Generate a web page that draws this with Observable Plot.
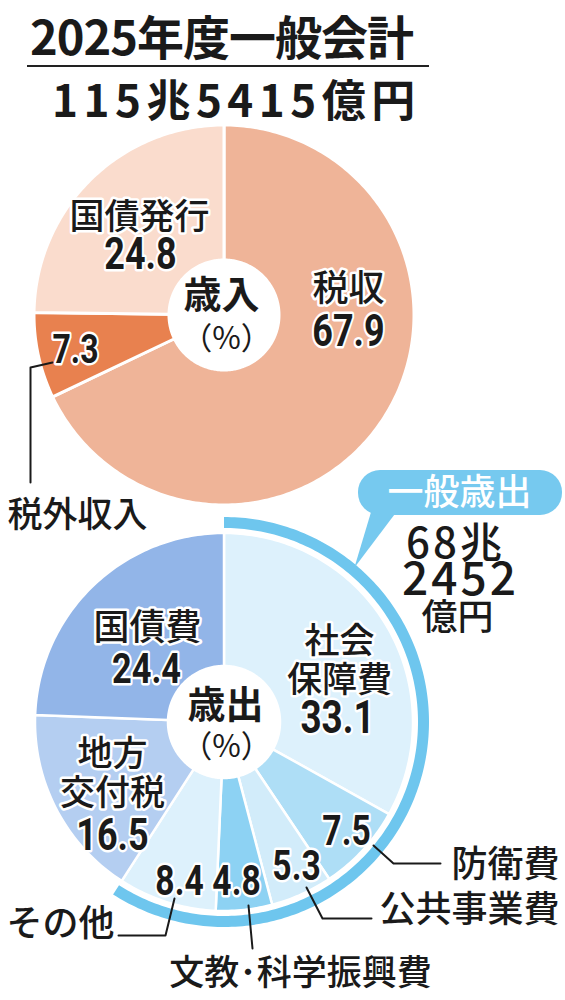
<!DOCTYPE html>
<html>
<head>
<meta charset="utf-8">
<script src="https://cdn.jsdelivr.net/npm/d3@7"></script>
<script src="https://cdn.jsdelivr.net/npm/@observablehq/plot@0.6"></script>
<style>
  body { margin: 0; background: #fff; }
  #head { position: relative; width: 565px; height: 122px; font-family: "Noto Sans CJK JP", sans-serif; color: #1a1a1a; }
  #head .t1 { position: absolute; left: 30px; top: 0px; font-size: 47px; line-height: normal; font-weight: 700; white-space: nowrap; letter-spacing: -1px; }
  #head .rule { position: absolute; left: 27px; top: 65px; width: 402px; height: 2px; background: #222; }
  #head .t2 { position: absolute; left: 52px; top: 71px; font-size: 44px; line-height: 54px; font-weight: 700; white-space: nowrap; letter-spacing: 5.5px; }
  #chart svg { display: block; }
</style>
</head>
<body>
<div id="head"><div class="t1" id="t1"></div><div class="rule"></div><div class="t2" id="t2"></div></div>
<div id="chart"></div>
<script>
// ---------- data ----------
const titleText = "2025年度一般会計";
const totalText = "115兆5415億円";
const revenueNames = ["税収", "税外収入", "国債発行"];
const revenueValues = [67.9, 7.3, 24.8];
const spendingNames = ["社会保障費", "防衛費", "公共事業費", "文教・科学振興費", "その他", "地方交付税", "国債費"];
const spendingValues = [33.1, 7.5, 5.3, 4.8, 8.4, 16.5, 24.4];
const generalSpendingItems = ["社会保障費", "防衛費", "公共事業費", "文教・科学振興費", "その他"];
const generalLabel = "一般歳出";
const generalTotalLines = ["68兆", "2452", "億円"];
const centerLabels = ["歳入", "歳出"];
const unitLabel = "（%）";
const nameText = {"国債発行": "国債発行", "税収": "税収", "税外収入": "税外収入",
  "国債費": "国債費", "社会保障費": "社会\n保障費", "地方交付税": "地方\n交付税",
  "防衛費": "防衛費", "公共事業費": "公共事業費", "文教・科学振興費": "文教･科学振興費", "その他": "その他"};

// ---------- layout & style ----------
const TOP = 122, W = 565, H = 1000 - TOP;
const geo = {
  rev: {cx: 224, cy: 315, r0: 55, r1: 190},
  exp: {cx: 224, cy: 722, r0: 56, r1: 189, ring0: 194, ring1: 205}
};
const revColors = ["#EFB498", "#E8814F", "#FADCCD"];
const expColors = ["#DDF1FC", "#AEDEF6", "#D2ECFA", "#8DD2F3", "#DDF1FC", "#B4CEF1", "#92B5E8"];
const ringColor = "#6EC6EE";
const pillColor = "#76C9EF";
const ink = "#1a1a1a";
const jpFont = '"Noto Sans CJK JP", sans-serif';
const numFont = 'Roboto, "Liberation Sans", sans-serif';
const condense = 0.8;

const nameLayout = {
  "国債発行": {x: 139, y: 216, size: 35},
  "税収": {x: 348, y: 288, size: 36},
  "税外収入": {x: 77, y: 514, size: 35},
  "国債費": {x: 147, y: 627, size: 36},
  "社会保障費": {x: 339, y: 640, size: 35},
  "地方交付税": {x: 112, y: 753, size: 35},
  "防衛費": {x: 505, y: 864, size: 36},
  "公共事業費": {x: 469, y: 909, size: 36},
  "文教・科学振興費": {x: 300, y: 972, size: 35},
  "その他": {x: 60, y: 923, size: 36}
};
const valueLayout = {
  "国債発行": {x: 140, y: 254, size: 45},
  "税収": {x: 348, y: 331, size: 45},
  "税外収入": {x: 75, y: 350, size: 40},
  "国債費": {x: 146, y: 669, size: 43},
  "社会保障費": {x: 337, y: 718, size: 46},
  "地方交付税": {x: 112, y: 835, size: 45},
  "防衛費": {x: 346, y: 831, size: 42},
  "公共事業費": {x: 296, y: 866, size: 42},
  "文教・科学振興費": {x: 236, y: 881, size: 42},
  "その他": {x: 179, y: 881, size: 42}
};
const leaderLayout = {
  "税外収入": [[52, 362], [30, 367], [30, 482]],
  "防衛費": [[373, 845], [393, 863], [440, 863]],
  "公共事業費": [[306, 887], [322, 918], [371, 918]],
  "文教・科学振興費": [[248, 905], [252, 948]],
  "その他": [[174, 898], [165, 935], [118, 935]]
};

document.getElementById("t1").textContent = titleText;
document.getElementById("t2").textContent = totalText;

// ---------- geometry from data ----------
function sectorRows(name, a0, a1, g, r0, r1, fill) {
  const n = Math.max(2, Math.ceil((a1 - a0) / (Math.PI / 180)));
  const rows = [];
  for (let k = 0; k <= n; k++) {
    const a = a0 + (a1 - a0) * k / n;
    rows.push({name, fill,
      x1: g.cx + r0 * Math.sin(a), y1: g.cy - r0 * Math.cos(a),
      x2: g.cx + r1 * Math.sin(a), y2: g.cy - r1 * Math.cos(a)});
  }
  return rows;
}
function donut(names, values, g, colors) {
  const arcs = d3.pie().sort(null).value(d => d)(values);
  return arcs.flatMap((p, i) => sectorRows(names[i], p.startAngle, p.endAngle, g, g.r0, g.r1, colors[i]));
}
const revRows = donut(revenueNames, revenueValues, geo.rev, revColors);
const expRows = donut(spendingNames, spendingValues, geo.exp, expColors);
const expTotal = d3.sum(spendingValues);
const generalSum = d3.sum(spendingNames.map((n, i) => generalSpendingItems.includes(n) ? spendingValues[i] : 0));
const ringRows = sectorRows(generalLabel, 0, 2 * Math.PI * generalSum / expTotal, geo.exp, geo.exp.ring0, geo.exp.ring1, ringColor);

const allNames = revenueNames.concat(spendingNames);
const allValues = revenueValues.concat(spendingValues);
const valueRows = allNames.map((n, i) => ({name: n, text: d3.format(".1f")(allValues[i]), ...valueLayout[n]}));
const nameRows = allNames.map(n => ({name: n, text: nameText[n], ...nameLayout[n]}));
const leaderRows = Object.entries(leaderLayout).flatMap(([k, pts]) => pts.map(([x, y]) => ({k, x, y})));

// pill + pointer towards the ring
const pill = [{x1: 358, x2: 562, y1: 470, y2: 515}];
const tipAngle = 40 * Math.PI / 180;
const pointer = [
  {x: 371, y: 510}, {x: 397, y: 510},
  {x: geo.exp.cx + (geo.exp.ring1 - 3) * Math.sin(tipAngle), y: geo.exp.cy - (geo.exp.ring1 - 3) * Math.cos(tipAngle)}
];

const centerRows = [
  {text: centerLabels[0], x: geo.rev.cx - 3, y: geo.rev.cy - 20},
  {text: centerLabels[1], x: geo.exp.cx + 1, y: geo.exp.cy - 17}
];
const unitRows = [
  {text: unitLabel, x: geo.rev.cx + 2, y: geo.rev.cy + 24},
  {text: unitLabel, x: geo.exp.cx + 2, y: geo.exp.cy + 25}
];
const genRows = [
  {text: generalTotalLines[0], x: 455, y: 544, size: 42},
  {text: generalTotalLines[1], x: 460, y: 580, size: 46},
  {text: generalTotalLines[2], x: 457, y: 618, size: 36}
];

const chart = Plot.plot({
  width: W, height: H, margin: 0,
  x: {domain: [0, W], range: [0, W], axis: null},
  y: {domain: [TOP, 1000], range: [0, H], axis: null},
  color: {type: "identity"},
  style: {fontFamily: jpFont, background: "white", color: ink},
  marks: [
    Plot.area(revRows, {x1: "x1", y1: "y1", x2: "x2", y2: "y2", z: "name", fill: "fill", stroke: "white", strokeWidth: 3, strokeLinejoin: "round"}),
    Plot.area(expRows, {x1: "x1", y1: "y1", x2: "x2", y2: "y2", z: "name", fill: "fill", stroke: "white", strokeWidth: 2.5, strokeLinejoin: "round"}),
    Plot.area(ringRows, {x1: "x1", y1: "y1", x2: "x2", y2: "y2", z: "name", fill: "fill"}),
    Plot.line(pointer, {x: "x", y: "y", fill: pillColor, stroke: "none"}),
    Plot.rect(pill, {x1: "x1", x2: "x2", y1: "y1", y2: "y2", fill: pillColor, rx: 22}),
    Plot.text([generalLabel], {x: 459, y: 493, text: d => d, fill: "white", fontSize: 36, fontWeight: 500}),
    Plot.line(leaderRows, {x: "x", y: "y", z: "k", stroke: ink, strokeWidth: 2}),
    Plot.text(nameRows, {x: "x", y: "y", text: "text", fontSize: "size", fill: ink, stroke: "white", strokeWidth: 5, fontWeight: 500, lineHeight: 1.13, lineAnchor: "top", dy: -16}),
    Plot.text(valueRows, {x: "x", y: "y", text: "text", fontSize: "size", fill: ink, stroke: "white", strokeWidth: 5, fontWeight: 700, fontFamily: numFont}),
    Plot.text(centerRows, {x: "x", y: "y", text: "text", fontSize: 38, fontWeight: 700, fill: ink}),
    Plot.text(unitRows, {x: "x", y: "y", text: "text", fontSize: 31, fontWeight: 400, fill: ink}),
    Plot.text(genRows, {x: "x", y: "y", text: "text", fontSize: "size", fontWeight: 500, fill: ink})
  ]
});
document.getElementById("chart").appendChild(chart);
// narrow (condensed) numerals like the newspaper figure
const valueTexts = new Set(valueRows.map(d => d.text));
chart.querySelectorAll("text").forEach(t => {
  const s = t.textContent;
  if (valueTexts.has(s)) {
    t.style.fontFamily = numFont;
    const len = t.getComputedTextLength();
    t.setAttribute("textLength", (len * condense).toFixed(1));
    t.setAttribute("lengthAdjust", "spacingAndGlyphs");
  } else if (s === generalTotalLines[0] || s === generalTotalLines[1]) {
    t.style.letterSpacing = "3px";
  }
});
</script>
</body>
</html>
